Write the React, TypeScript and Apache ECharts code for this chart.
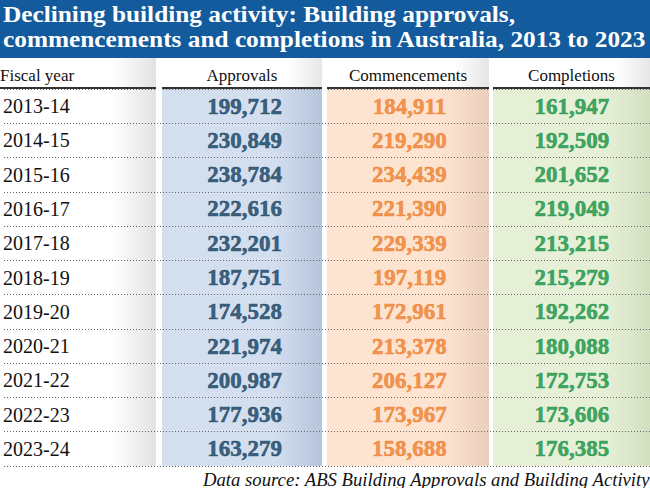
import React, { useEffect, useRef } from "react";
import * as echarts from "echarts";

const titleLines = [
  "Declining building activity: Building approvals,",
  "commencements and completions in Australia, 2013 to 2023",
];
const firstHeader = "Fiscal year";
const columnNames = ["Approvals", "Commencements", "Completions"];
const years = [
  "2013-14", "2014-15", "2015-16", "2016-17", "2017-18", "2018-19",
  "2019-20", "2020-21", "2021-22", "2022-23", "2023-24",
];
const approvals = [199712, 230849, 238784, 222616, 232201, 187751, 174528, 221974, 200987, 177936, 163279];
const commencements = [184911, 219290, 234439, 221390, 229339, 197119, 172961, 213378, 206127, 173967, 158688];
const completions = [161947, 192509, 201652, 219049, 213215, 215279, 192262, 180088, 172753, 173606, 176385];
const source = "Data source: ABS Building Approvals and Building Activity";

// layout (not data)
const W = 650;
const TOP = 89;
const BOTTOM = 466;
const COLS = [
  { x0: 162, x1: 322, base: "#d3deef", dark: "#b6c5dc", text: "#123f60" },
  { x0: 327, x1: 489, base: "#fde4d1", dark: "#ebcfbd", text: "#ee7e2c" },
  { x0: 493, x1: 650, base: "#e6f0d7", dark: "#d3dfc0", text: "#149143" },
];
const SERIF = "Liberation Serif, serif";

function hGrad(stops: [number, string][]) {
  return new echarts.graphic.LinearGradient(
    0, 0, 1, 0,
    stops.map(([offset, color]) => ({ offset, color }))
  );
}

export default function App() {
  const ref = useRef<HTMLDivElement>(null);
  useEffect(() => {
    if (!ref.current) return;
    const chart = echarts.init(ref.current, null, { renderer: "svg" });
    const fmt = (v: number) => v.toLocaleString("en-US");
    const datasets = [approvals, commencements, completions];

    const graphic: any[] = [];
    graphic.push({ type: "rect", z: 1, shape: { x: 0, y: 0, width: W, height: 58 }, style: { fill: "#135b9c" } });
    titleLines.forEach((t, i) => {
      graphic.push({
        type: "text", z: 2, x: 3, y: 14.5 + i * 25, scaleX: 1.13,
        style: {
          text: t, fill: "#ffffff", fontFamily: SERIF, fontWeight: "bold",
          fontSize: 22.4, verticalAlign: "middle", align: "left",
        },
      });
    });
    graphic.push({
      type: "rect", z: 0, shape: { x: 0, y: 58, width: 156, height: BOTTOM - 58 },
      style: { fill: hGrad([[0, "#ffffff"], [0.72, "#ffffff"], [1, "#e2e2e2"]]) },
    });
    graphic.push({
      type: "text", z: 2, x: 0, y: 75,
      style: { text: firstHeader, fill: "#111", fontFamily: SERIF, fontSize: 17, verticalAlign: "middle", align: "left" },
    });
    graphic.push({ type: "rect", z: 10, shape: { x: 0, y: 87, width: 156, height: 2 }, style: { fill: "#333" } });
    COLS.forEach((c, i) => {
      const w = c.x1 - c.x0;
      graphic.push({
        type: "rect", z: 0, shape: { x: c.x0, y: 58, width: w, height: TOP - 58 },
        style: { fill: hGrad([[0, "#ffffff"], [0.78, "#ffffff"], [1, "#e6e6e6"]]) },
      });
      graphic.push({
        type: "rect", z: 0, shape: { x: c.x0, y: TOP, width: w, height: BOTTOM - TOP },
        style: { fill: hGrad([[0, c.base], [0.7, c.base], [1, c.dark]]) },
      });
      graphic.push({
        type: "text", z: 2, x: (c.x0 + c.x1) / 2, y: 75,
        style: { text: columnNames[i], fill: "#111", fontFamily: SERIF, fontSize: 17, verticalAlign: "middle", align: "center" },
      });
      graphic.push({ type: "rect", z: 10, shape: { x: c.x0, y: 87, width: w, height: 2 }, style: { fill: "#333" } });
    });
    [[156, 162], [322, 327], [489, 493]].forEach(([a, b]) => {
      graphic.push({ type: "rect", z: 9, shape: { x: a, y: 86, width: b - a, height: 4 }, style: { fill: "#ffffff" } });
    });
    graphic.push({
      type: "text", z: 2, x: 203, y: 479,
      style: { text: source, fill: "#111", fontFamily: SERIF, fontStyle: "italic", fontSize: 18.7, verticalAlign: "middle", align: "left" },
    });

    const series = datasets.map((vals, ci) => ({
      type: "scatter",
      z: 5,
      symbolSize: 1,
      itemStyle: { color: "rgba(0,0,0,0)" },
      silent: true,
      data: vals.map((v, i) => [(COLS[ci].x0 + COLS[ci].x1) / 2, years[i], v]),
      label: {
        show: true,
        position: "inside",
        formatter: (p: any) => fmt(p.value[2]),
        color: COLS[ci].text,
        fontFamily: SERIF,
        fontWeight: "bold",
        fontSize: 23,
        textBorderColor: COLS[ci].text,
        textBorderWidth: 0.6,
      },
    }));

    chart.setOption({
      animation: false,
      backgroundColor: "#ffffff",
      grid: { left: 0, right: 0, top: TOP, height: BOTTOM - TOP, containLabel: false },
      xAxis: { type: "value", min: 0, max: W, show: false },
      yAxis: {
        type: "category",
        inverse: true,
        data: years,
        z: 3,
        axisLine: { show: false },
        axisTick: { show: false },
        axisLabel: {
          inside: true,
          margin: -1,
          align: "left",
          color: "#111",
          fontFamily: SERIF,
          fontSize: 20,
        },
        splitLine: { show: true, lineStyle: { color: "#666", type: [1, 2], width: 1 } },
      },
      graphic,
      series,
    });
    return () => chart.dispose();
  }, []);
  return <div ref={ref} style={{ position: "fixed", left: 0, top: 0, width: 650, height: 488 }} />;
}
